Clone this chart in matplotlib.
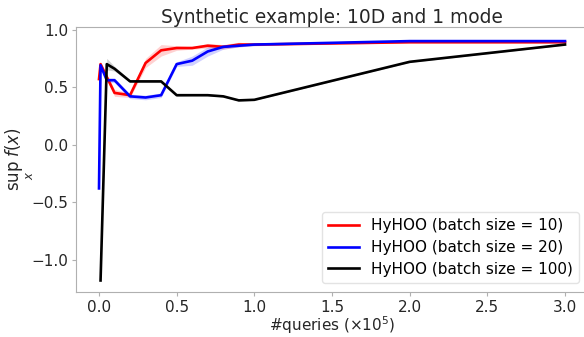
import matplotlib
matplotlib.use("Agg")
import matplotlib.pyplot as plt
import numpy as np

# queries (x 1e5) and mean / std of sup f(x) for each batch size
x_b10 = [0.0, 0.01, 0.1, 0.2, 0.3, 0.4, 0.5, 0.6, 0.7, 0.8, 0.9, 1.0, 2.0, 3.0]
y_b10 = [0.57, 0.70, 0.45, 0.43, 0.71, 0.82, 0.84, 0.84, 0.86, 0.85, 0.87, 0.87, 0.89, 0.89]
s_b10 = [0.02, 0.02, 0.03, 0.02, 0.04, 0.05, 0.02, 0.01, 0.02, 0.02, 0.02, 0.01, 0.005, 0.005]

x_b20 = [0.0, 0.01, 0.05, 0.1, 0.2, 0.3, 0.4, 0.5, 0.6, 0.7, 0.8, 0.9, 1.0, 2.0, 3.0]
y_b20 = [-0.38, 0.69, 0.56, 0.56, 0.42, 0.41, 0.43, 0.70, 0.73, 0.81, 0.85, 0.86, 0.87, 0.90, 0.90]
s_b20 = [0.0, 0.02, 0.02, 0.02, 0.02, 0.02, 0.02, 0.02, 0.04, 0.04, 0.02, 0.01, 0.01, 0.005, 0.005]

x_b100 = [0.01, 0.05, 0.1, 0.2, 0.3, 0.4, 0.5, 0.6, 0.7, 0.8, 0.9, 1.0, 2.0, 3.0]
y_b100 = [-1.18, 0.70, 0.66, 0.55, 0.55, 0.55, 0.43, 0.43, 0.43, 0.42, 0.385, 0.39, 0.72, 0.87]
s_b100 = [0.0, 0.05, 0.02, 0.01, 0.01, 0.01, 0.01, 0.005, 0.005, 0.005, 0.005, 0.005, 0.005, 0.005]

series = [
    (x_b10, y_b10, s_b10, "red", "HyHOO (batch size = 10)"),
    (x_b20, y_b20, s_b20, "blue", "HyHOO (batch size = 20)"),
    (x_b100, y_b100, s_b100, "black", "HyHOO (batch size = 100)"),
]

fig = plt.figure(figsize=(5.84, 3.37), dpi=100)
ax = fig.add_axes([75.7 / 584, 45.0 / 337, 512.6 / 584, 264.7 / 337])

for xs, ys, ss, col, lab in series:
    xs, ys, ss = np.array(xs), np.array(ys), np.array(ss)
    ax.plot(xs, ys, color=col, lw=1.9, label=lab)
    ax.fill_between(xs, ys - ss, ys + ss, color=col, alpha=0.18, lw=0)

ax.set_xlim(-0.15, 3.15)
ax.set_ylim(-1.28, 1.02)
ax.set_xticks([0.0, 0.5, 1.0, 1.5, 2.0, 2.5, 3.0])
ax.set_yticks([-1.0, -0.5, 0.0, 0.5, 1.0])

for sp in ax.spines.values():
    sp.set_color("#b0b0b0")
ax.tick_params(colors="#b0b0b0", labelcolor="#262626", labelsize=11, length=3, pad=2.5)

ax.set_title("Synthetic example: 10D and 1 mode", fontsize=13.4, pad=3, color="#262626")
ax.set_xlabel(r"#queries ($\times 10^5$)", fontsize=11, labelpad=0, color="#262626")
ax.set_ylabel(r"$\sup_x\;f(x)$", fontsize=12, color="#262626")
ax.yaxis.set_label_coords(-0.078, 0.5)

ax.legend(loc="lower right", fontsize=11, frameon=True, edgecolor="#dddddd",
          handlelength=2.0, borderaxespad=0.6, labelspacing=0.45)

fig.savefig("out.png", dpi=100)
